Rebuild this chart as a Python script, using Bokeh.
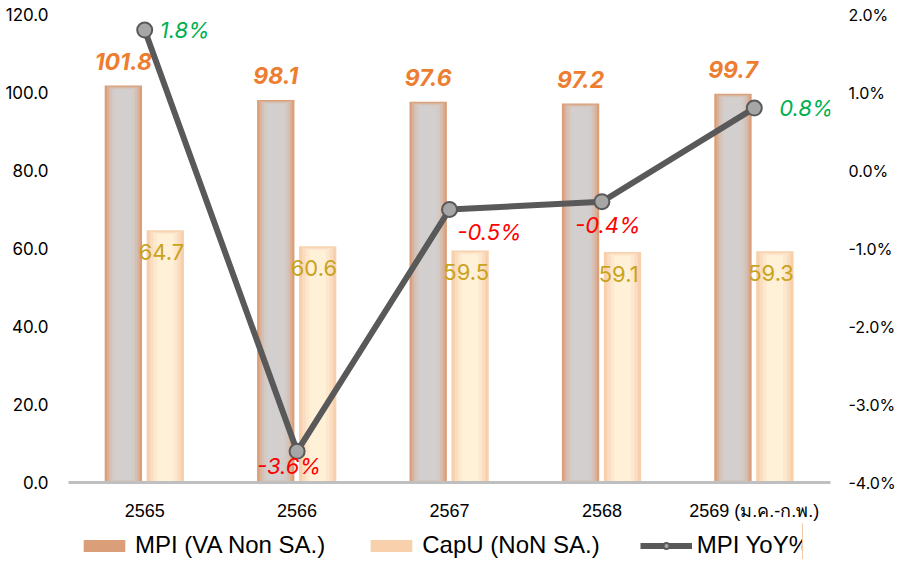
from bokeh.plotting import figure
from bokeh.layouts import column
from bokeh.models import (Range1d, LinearAxis, FixedTicker, PrintfTickFormatter,
                          Legend, LegendItem, ColumnDataSource)
from bokeh.transform import dodge
from bokeh.core.properties import value
from bokeh.embed import file_html
from bokeh.resources import INLINE

categories = ["2565", "2566", "2567", "2568", "2569 (ม.ค.-ก.พ.)"]
mpi = [101.8, 98.1, 97.6, 97.2, 99.7]
capu = [64.7, 60.6, 59.5, 59.1, 59.3]
yoy = [1.8, -3.6, -0.5, -0.4, 0.8]
left_ticks = [0, 20, 40, 60, 80, 100, 120]
right_ticks = [-4, -3, -2, -1, 0, 1, 2]
legend_labels = ["MPI (VA Non SA.)", "CapU (NoN SA.)", "MPI YoY%"]

# label offsets (style)
yoy_dx = [40, -8, 40, 6, 52]
yoy_dy = [0, 15, 22, 23, 0]

FONT = "Liberation Sans"
FH = 468
MPI_EDGE, CAPU_EDGE = "#DA9E78", "#F8D0AB"

p = figure(x_range=categories, y_range=Range1d(0, 120),
           frame_width=762, frame_height=FH,
           min_border_left=68, min_border_top=14, min_border_right=2,
           min_border_bottom=0,
           output_backend="svg", toolbar_location=None)
p.extra_y_ranges = {"yoy": Range1d(-4, 2)}

src = ColumnDataSource(dict(cat=categories, mpi=mpi, capu=capu, yoy=yoy,
                            mpi_lab=[f"{v:.1f}" for v in mpi],
                            capu_lab=[f"{v:.1f}" for v in capu],
                            yoy_lab=[f"{v:.1f}%" for v in yoy],
                            yoy_col=["#00B050" if v > 0 else "#FF0000" for v in yoy],
                            dx=yoy_dx, dy=yoy_dy))

bw = 0.245
unit = 120 / float(FH)
mpi_layers = [(1.0, 0, MPI_EDGE), (0.88, 1.0, "#D9B099"), (0.76, 2.0, "#D6C0B4"),
              (0.62, 3.0, "#D4CAC5"), (0.48, 4.0, "#D2CFCE")]
for frac, off, col in mpi_layers:
    s = ColumnDataSource(dict(cat=categories, top=[max(v - off * unit, 0) for v in mpi],
                              bottom=[off * unit * 0.6 for v in mpi]))
    p.vbar(x=dodge("cat", -0.14, range=p.x_range), top="top", bottom="bottom",
           width=bw * frac, source=s, fill_color=col, line_color=None)
capu_layers = [(1.0, 0, CAPU_EDGE), (0.82, 1.3, "#FADDC0"), (0.64, 2.6, "#FDE8CE"),
               (0.44, 3.9, "#FFF0D8")]
for frac, off, col in capu_layers:
    s = ColumnDataSource(dict(cat=categories, top=[max(v - off * unit, 0) for v in capu],
                              bottom=[off * unit * 0.4 for v in capu]))
    p.vbar(x=dodge("cat", 0.135, range=p.x_range), top="top", bottom="bottom",
           width=bw * frac, source=s, fill_color=col, line_color=None)

p.text(x=dodge("cat", -0.14, range=p.x_range), y="mpi", text="mpi_lab", source=src,
       text_color="#ED7D31", text_font=value("Inter"), text_font_style="bold italic",
       text_font_size="23px", text_align="center", text_baseline="middle", y_offset=-24)
p.text(x=dodge("cat", 0.11, range=p.x_range), y="capu", text="capu_lab", source=src,
       text_color="#C9A31C", text_font=value("Inter"),
       text_font_size="22px", text_align="center", text_baseline="middle", y_offset=22)

p.line(x="cat", y="yoy", source=src, y_range_name="yoy",
       line_color="#595959", line_width=6)
p.scatter(x="cat", y="yoy", source=src, y_range_name="yoy", size=15,
          fill_color="#A6A6A6", line_color="#595959", line_width=2)
p.text(x="cat", y="yoy", text="yoy_lab", source=src, y_range_name="yoy",
       text_color="yoy_col", text_font=value("Inter"), text_font_style="italic",
       text_font_size="22px", text_align="center", text_baseline="middle",
       x_offset="dx", y_offset="dy")

p.yaxis.ticker = FixedTicker(ticks=left_ticks)
p.yaxis.formatter = PrintfTickFormatter(format="%.1f")
p.yaxis.axis_line_color = None
p.yaxis.major_tick_line_color = None
p.yaxis.minor_tick_line_color = None
p.yaxis.major_label_text_font = "Inter"
p.yaxis.major_label_text_font_size = "17px"
p.yaxis.major_label_text_color = "#000000"
p.yaxis.major_label_standoff = 14

ra = LinearAxis(y_range_name="yoy", ticker=FixedTicker(ticks=right_ticks),
                formatter=PrintfTickFormatter(format="%.1f%%"))
ra.axis_line_color = None
ra.major_tick_line_color = None
ra.minor_tick_line_color = None
ra.major_label_text_font = "Inter"
ra.major_label_text_font_size = "16px"
ra.major_label_text_color = "#000000"
ra.major_label_standoff = 12
p.add_layout(ra, "right")

p.xaxis.axis_line_color = "#BFBFBF"
p.xaxis.axis_line_width = 3
p.xaxis.major_tick_line_color = None
p.xaxis.minor_tick_line_color = None
p.xaxis.major_label_text_font = FONT
p.xaxis.major_label_text_font_size = "18px"
p.xaxis.major_label_text_color = "#000000"
p.xaxis.major_label_standoff = 12

p.xgrid.grid_line_color = None
p.ygrid.grid_line_color = None
p.outline_line_color = None

# legend strip (separate small figure so the legend is not clipped);
# its helper glyphs use the chart data, which lies outside this strip's ranges
lg = figure(width=870, height=36, x_range=Range1d(0, 1), y_range=Range1d(0, 1),
            min_border=0, output_backend="svg", toolbar_location=None)
lg.axis.visible = False
lg.grid.visible = False
lg.outline_line_color = None
helper = ColumnDataSource(dict(x=mpi, y=mpi))
r1 = lg.vbar(x="x", top="y", width=0.1, source=helper, fill_color=MPI_EDGE, line_color=None)
r2 = lg.vbar(x="x", top="y", width=0.1, source=helper, fill_color=CAPU_EDGE, line_color=None)
r3 = lg.line(x="x", y="y", source=helper, line_color="#595959", line_width=6)
r4 = lg.scatter(x="x", y="y", source=helper, size=15, fill_color="#A6A6A6",
                line_color="#595959", line_width=2)
legend = Legend(items=[LegendItem(label=legend_labels[0], renderers=[r1]),
                       LegendItem(label=legend_labels[1], renderers=[r2]),
                       LegendItem(label=legend_labels[2], renderers=[r3, r4])],
                orientation="horizontal", location=(10, 0),
                label_text_font=FONT, label_text_font_size="24px",
                label_text_color="#000000",
                glyph_width=52, glyph_height=15, spacing=40, label_standoff=5,
                border_line_color=None, background_fill_alpha=0,
                padding=0, margin=0)
lg.add_layout(legend, "center")

layout = column(p, lg, spacing=0)
open("out.html", "w").write(file_html(layout, INLINE))
